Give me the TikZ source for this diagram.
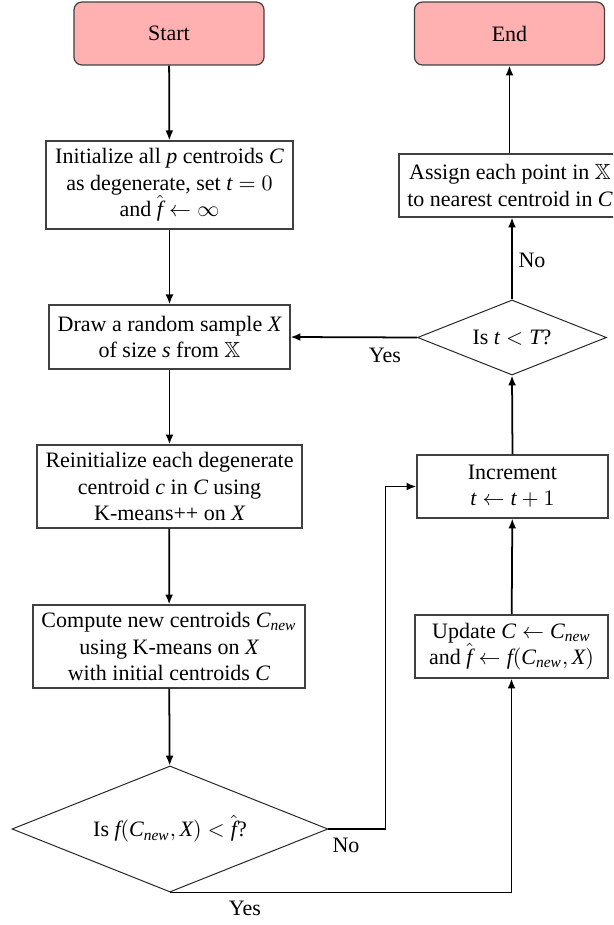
\documentclass[tikz,border=0pt]{standalone}
\usepackage{amssymb}
\usepackage{fontspec}
\setmainfont{Liberation Serif}
\usetikzlibrary{shapes.geometric,arrows.meta}
\definecolor{termfill}{RGB}{255,176,176}
\newcommand\mv[1]{\mathit{#1}}
\begin{document}
\begin{tikzpicture}[x=0.4545pt,y=-0.4545pt,
  every node/.style={font=\fontsize{10pt}{12pt}\selectfont},
  term/.style={draw=black!75, line width=0.55pt, fill=termfill, rounded corners=3.6pt,
    minimum width=86.4pt, minimum height=28.6pt, inner sep=2pt},
  procbox/.style={draw=black!75, line width=0.55pt, fill=white, align=center, inner sep=2pt},
  decision/.style={draw=black!85, line width=0.45pt, diamond, aspect=2.5, inner sep=0pt, align=center},
  arr/.style={draw=black, line width=0.8pt, -{Latex[length=4.5pt,width=3.6pt]}},
  lbl/.style={inner sep=0pt}]
\useasboundingbox (0,0) rectangle (613,925);
\clip (0,0) rectangle (613,925);

\node[term] (start) at (169,33.5) {Start};
\node[term] (end) at (509.5,33.5) {End};

\node[procbox, minimum width=112.3pt, minimum height=40pt] (init) at (169.5,185)
  {Initialize all $\mv{p}$ centroids $\mv{C}$\\ as degenerate, set $\mv{t} = 0$\\ and $\hat{\mv{f}} \leftarrow \infty$};
\node[procbox, minimum width=109.5pt, minimum height=29.1pt] (draw) at (169.5,337)
  {Draw a random sample $\mv{X}$\\ of size $\mv{s}$ from $\mathbb{X}$};
\node[procbox, minimum width=120.4pt, minimum height=37.7pt] (reinit) at (169.5,486.5)
  {Reinitialize each degenerate\\ centroid $\mv{c}$ in $\mv{C}$ using\\ K-means++ on $\mv{X}$};
\node[procbox, minimum width=123.6pt, minimum height=37.7pt] (compute) at (169,646.5)
  {Compute new centroids $\mv{C}_{\mv{new}}$\\ using K-means on $\mv{X}$\\ with initial centroids $\mv{C}$};
\node[decision, minimum width=143.6pt, minimum height=57.3pt] (d1) at (170,829)
  {Is $\mv{f}(\mv{C}_{\mv{new}}, \mv{X}) < \hat{\mv{f}}$?};

\node[procbox, minimum width=100.9pt, minimum height=28.6pt] (assign) at (510,185.5)
  {Assign each point in $\mathbb{X}$\\ to nearest centroid in $\mv{C}$};
\node[decision, minimum width=85.9pt, minimum height=34.1pt] (tdiam) at (512,337.5)
  {Is $\mv{t} < \mv{T}$?};
\node[procbox, minimum width=86.8pt, minimum height=28.6pt] (incr) at (512.5,486.5)
  {Increment\\ $\mv{t} \leftarrow \mv{t} + 1$};
\node[procbox, minimum width=87.7pt, minimum height=28.6pt] (update) at (511.5,646.5)
  {Update $\mv{C} \leftarrow \mv{C}_{\mv{new}}$\\ and $\hat{\mv{f}} \leftarrow \mv{f}(\mv{C}_{\mv{new}}, \mv{X})$};

\draw[arr] (start) -- (init);
\draw[arr] (init) -- (draw);
\draw[arr] (draw) -- (reinit);
\draw[arr] (reinit) -- (compute);
\draw[arr] (compute) -- (d1);
\draw[arr] (d1.east) -- ++(57,0) |- (incr.west);
\draw[arr] (d1.south) -| (update.south);
\draw[arr] (update) -- (incr);
\draw[arr] (incr.north) -- (tdiam.south);
\draw[arr] (tdiam.west) -- (draw.east);
\draw[arr] (tdiam.north) -- (tdiam.north |- assign.south);
\draw[arr] (assign.north -| end.south) -- (end.south);

\node[lbl] (lno1) at (532,260) {No};
\node[lbl] (lyes1) at (385,355) {Yes};
\node[lbl] (lno2) at (346,845) {No};
\node[lbl] (lyes2) at (245,908) {Yes};
\end{tikzpicture}
\end{document}
